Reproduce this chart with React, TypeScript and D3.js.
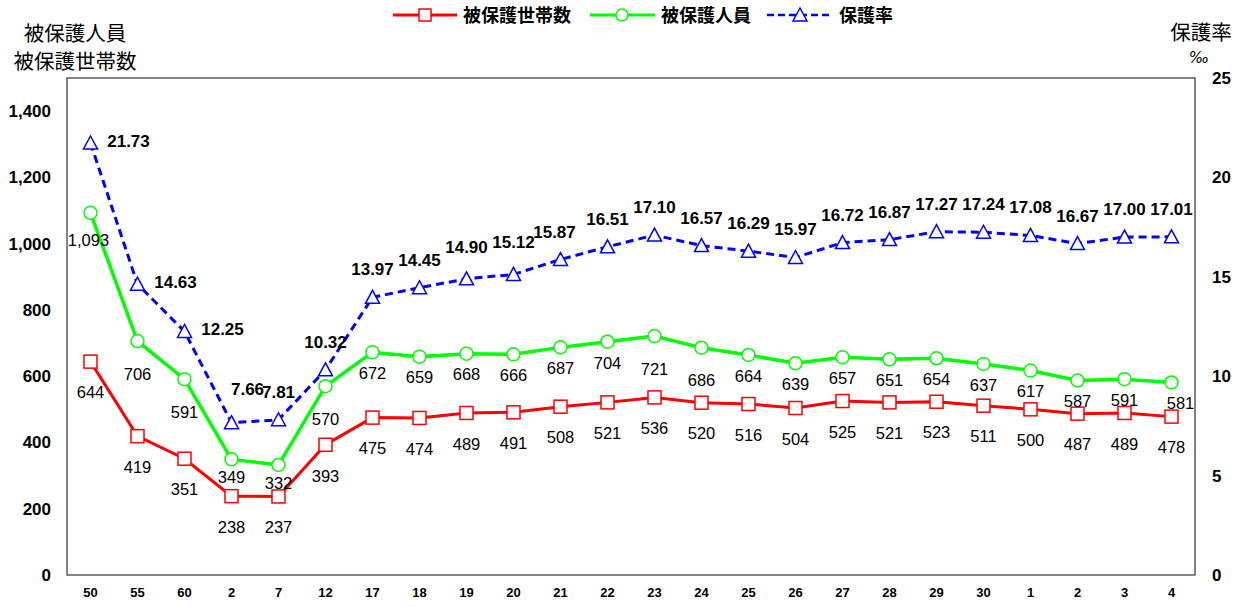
import React from "react";
import * as d3 from "d3";

const categories = ["50","55","60","2","7","12","17","18","19","20","21","22","23","24","25","26","27","28","29","30","1","2","3","4"];
const households = [644,419,351,238,237,393,475,474,489,491,508,521,536,520,516,504,525,521,523,511,500,487,489,478];
const persons = [1093,706,591,349,332,570,672,659,668,666,687,704,721,686,664,639,657,651,654,637,617,587,591,581];
const rates = [21.73,14.63,12.25,7.66,7.81,10.32,13.97,14.45,14.90,15.12,15.87,16.51,17.10,16.57,16.29,15.97,16.72,16.87,17.27,17.24,17.08,16.67,17.00,17.01];
const leftTicks = [0,200,400,600,800,1000,1200,1400];
const rightTicks = [0,5,10,15,20,25];

const W = 1242, H = 607;
const L = 67, R = 1195, T = 78, B = 575;
const NUM = "'Liberation Sans', Arial, sans-serif";
const JP = "'Noto Sans CJK JP', sans-serif";

export default function App() {
  const x = d3.scaleBand<number>().domain(categories.map((_, i) => i)).range([L, R]);
  const cx = (i: number) => (x(i) as number) + x.bandwidth() / 2;
  const yL = d3.scaleLinear().domain([0, 1500]).range([B, T]);
  const yR = d3.scaleLinear().domain([0, 25]).range([B, T]);
  const line = d3.line<number>();
  const redPath = line(households.map((v, i) => [cx(i), yL(v)]))!;
  const greenPath = line(persons.map((v, i) => [cx(i), yL(v)]))!;
  const bluePath = line(rates.map((v, i) => [cx(i), yR(v)]))!;
  const fmt = d3.format(",");

  const greenDy = (i: number) => (i === 0 ? 27 : [1, 2, 5, 12, 13].includes(i) ? 33 : i === 3 || i === 4 ? 18 : 21);
  const greenDx = (i: number) => (i === 0 ? -2 : i === categories.length - 1 ? 9 : 0);
  const blueOff = (i: number): [number, number] => {
    if (i <= 2) return [38, -2];
    if (i === 3) return [16, -34];
    if (i === 10) return [-6, -27];
    if (i === 8 || i === 9) return [0, -32];
    return [0, -28];
  };

  const tri = (px: number, py: number) => `M${px},${py - 7}L${px + 7},${py + 6}L${px - 7},${py + 6}Z`;

  return (
    <div style={{ position: "absolute", left: 0, top: 0 }}>
      <svg width={W} height={H} style={{ display: "block", background: "#fff" }}>
        {/* plot border */}
        <rect x={L} y={T} width={R - L} height={B - T} fill="none" stroke="#333" strokeWidth={1.2} />

        {/* left axis */}
        {leftTicks.map(t => (
          <text key={"l" + t} x={51} y={yL(t)} dy="0.35em" textAnchor="end" fontFamily={NUM} fontWeight="bold" fontSize={17} fill="#000">{fmt(t)}</text>
        ))}
        {/* right axis */}
        {rightTicks.map(t => (
          <text key={"r" + t} x={1212} y={yR(t)} dy="0.35em" textAnchor="start" fontFamily={NUM} fontWeight="bold" fontSize={17} fill="#000">{t}</text>
        ))}
        {/* x axis labels */}
        {categories.map((c, i) => (
          <text key={"x" + i} x={cx(i)} y={592} dy="0.35em" textAnchor="middle" fontFamily={NUM} fontWeight="bold" fontSize={13} fill="#000">{c}</text>
        ))}

        {/* axis titles */}
        <text x={75} y={41} textAnchor="middle" fontFamily={JP} fontSize={20.5} fill="#000">被保護人員</text>
        <text x={75} y={69} textAnchor="middle" fontFamily={JP} fontSize={20.5} fill="#000">被保護世帯数</text>
        <text x={1201} y={40} textAnchor="middle" fontFamily={JP} fontSize={20.5} fill="#000">保護率</text>
        <text x={1199} y={63} textAnchor="middle" fontFamily="'DejaVu Sans', sans-serif" fontStyle="italic" fontSize={15} fill="#000">‰</text>

        {/* legend */}
        <g>
          <line x1={393} x2={457} y1={15} y2={15} stroke="#ff0000" strokeWidth={3} />
          <rect x={419} y={9} width={12} height={12} fill="#fff" stroke="#ff0000" strokeWidth={1.5} />
          <text x={463} y={22} fontFamily={JP} fontWeight="bold" fontSize={18} fill="#000">被保護世帯数</text>
          <line x1={590} x2={655} y1={15} y2={15} stroke="#00ff00" strokeWidth={3} />
          <circle cx={622} cy={15} r={6} fill="#fff" stroke="#00ff00" strokeWidth={1.5} />
          <text x={661} y={22} fontFamily={JP} fontWeight="bold" fontSize={18} fill="#000">被保護人員</text>
          <line x1={767} x2={832} y1={15} y2={15} stroke="#0000ff" strokeWidth={2.5} strokeDasharray="7,4" />
          <path d={tri(800, 15)} fill="#fff" stroke="#0000ff" strokeWidth={1.5} />
          <text x={839} y={22} fontFamily={JP} fontWeight="bold" fontSize={18} fill="#000">保護率</text>
        </g>

        {/* lines */}
        <path d={redPath} fill="none" stroke="#ff0000" strokeWidth={3} />
        <path d={greenPath} fill="none" stroke="#00ff00" strokeWidth={3.5} />
        <path d={bluePath} fill="none" stroke="#0000ff" strokeWidth={3} strokeDasharray="8,5" />

        {/* markers */}
        {households.map((v, i) => (
          <rect key={"rm" + i} x={cx(i) - 6.5} y={yL(v) - 6.5} width={13} height={13} fill="#fff" stroke="#ff0000" strokeWidth={1.5} />
        ))}
        {persons.map((v, i) => (
          <circle key={"gm" + i} cx={cx(i)} cy={yL(v)} r={6.5} fill="#fff" stroke="#00ff00" strokeWidth={1.5} />
        ))}
        {rates.map((v, i) => (
          <path key={"bm" + i} d={tri(cx(i), yR(v))} fill="#fff" stroke="#0000ff" strokeWidth={1.5} />
        ))}

        {/* data labels */}
        {households.map((v, i) => (
          <text key={"rl" + i} x={cx(i)} y={yL(v) + 31} dy="0.35em" textAnchor="middle" fontFamily={NUM} fontSize={16.5} fill="#000">{fmt(v)}</text>
        ))}
        {persons.map((v, i) => (
          <text key={"gl" + i} x={cx(i) + greenDx(i)} y={yL(v) + greenDy(i)} dy="0.35em" textAnchor="middle" fontFamily={NUM} fontSize={16.5} fill="#000">{fmt(v)}</text>
        ))}
        {rates.map((v, i) => {
          const [dx, dy] = blueOff(i);
          return (
            <text key={"bl" + i} x={cx(i) + dx} y={yR(v) + dy} dy="0.35em" textAnchor="middle" fontFamily={NUM} fontWeight="bold" fontSize={17} fill="#000">{v.toFixed(2)}</text>
          );
        })}
      </svg>
    </div>
  );
}
